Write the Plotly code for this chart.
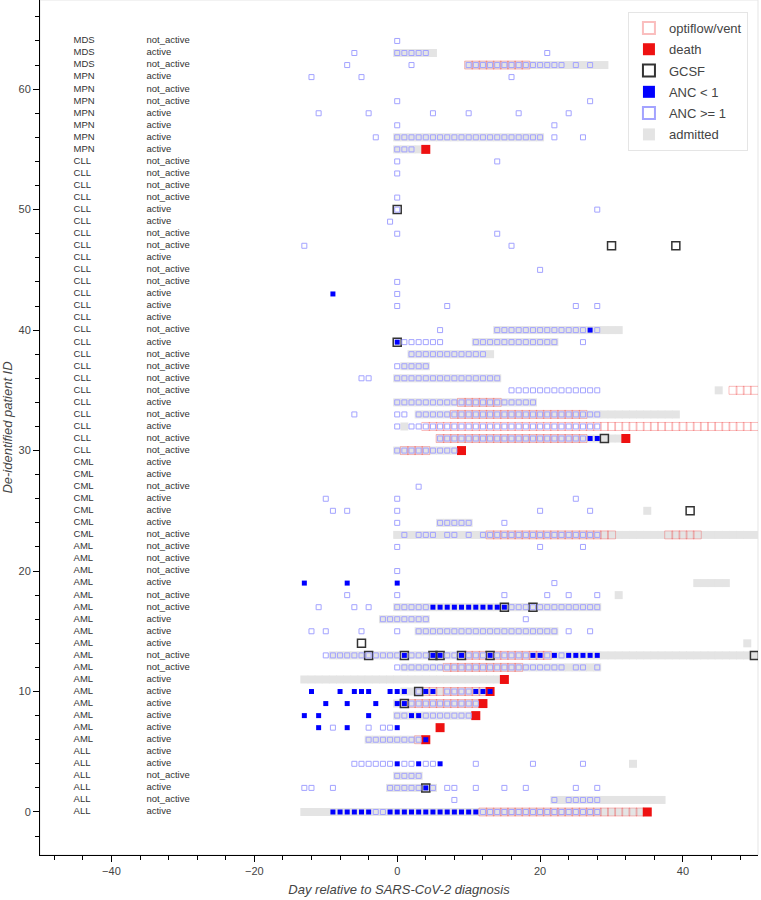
import plotly.graph_objects as go

# one row per patient, id 0 at the bottom
DISEASE = ["ALL"] * 6 + ["AML"] * 17 + ["CML"] * 7 + ["CLL"] * 25 + ["MPN"] * 7 + ["MDS"] * 3
STATUS = [
    "active", "not_active", "active", "not_active", "active", "active",
    "active", "active", "active", "active", "active", "active", "not_active", "not_active",
    "active", "active", "active", "not_active", "not_active", "active", "not_active",
    "not_active", "not_active",
    "not_active", "active", "active", "active", "not_active", "active", "active",
    "not_active", "not_active", "active", "not_active", "active", "not_active", "not_active",
    "not_active", "not_active", "active", "not_active", "active", "active", "active",
    "not_active", "not_active", "active", "not_active", "not_active", "active", "active",
    "not_active", "not_active", "not_active", "not_active",
    "active", "active", "active", "active", "not_active", "not_active", "active",
    "not_active", "active", "not_active",
]

# days per patient, "a..b" = every day from a to b
ANC_HIGH = {
    64: "0", 63: "-6 0..4 21", 62: "-7 2 10..23 25 27", 61: "-12 -5 16",
    59: "0 27", 58: "-11 -4 5 10 17 24", 57: "0 22", 56: "-3 0..20 22 26",
    55: "0..2", 54: "0 14", 53: "0", 51: "0", 50: "0 28", 49: "-1", 48: "0 14",
    47: "-13 16", 45: "20", 44: "0", 43: "0", 42: "0 7 25 28", 40: "6 14..26 28",
    39: "1..6 11..22 26", 38: "2..12", 37: "0..4", 36: "-5 -4 0..14", 35: "16..28",
    34: "0..19", 33: "-6 0 1 3..28", 32: "0 2..28", 31: "6..26", 30: "0..8",
    27: "3", 26: "-10 0 25", 25: "-9 -7 0 20 27", 24: "0 6..10 15",
    23: "1 3..5 7 8 10 12..28", 22: "0 20 26", 20: "0", 19: "22",
    18: "-7 0 15 21 24 28", 17: "-11 -6 -4 0..4 16..28", 16: "-2..4 18",
    15: "-12 -10 -5 0 3..22 24 27", 13: "-10..0 2..4 7 8 10..12 14..18 21 23",
    12: "0..23 25 26 28", 10: "3 7..10", 9: "2..11", 8: "0 1 4..10",
    7: "-9 -4 -2 -1", 6: "-4..3", 4: "-6..-1 1 2 4 5 11 19 26", 3: "0..3",
    2: "-13 -12 -9 -1..3 5 7 8 11 15 18 25 28", 1: "8 22 24..28", 0: "-3 -2 12..28",
}
ANC_LOW = {
    43: "-9", 40: "27", 39: "0", 31: "27 28", 19: "-13 -7 0", 17: "5..15",
    13: "1 5 6 9 13 19 20 22 24..28", 10: "-12 -8 -6..-4 -1..1 4 5 11..13",
    9: "-10 -7 -3 0 1", 8: "-13 -11 -4 2 3", 7: "-11 -7 0", 6: "4", 4: "0 3 6",
    2: "4", 0: "-9..-4 -1..11",
}
GCSF = {
    50: "0", 47: "30 39", 39: "0", 31: "29", 25: "41", 17: "15 19", 14: "-5",
    13: "-4 1 5 6 9 13 50", 10: "3", 9: "1", 2: "4",
}
ADMITTED = {
    63: "0..5", 62: "10..29", 56: "0..20", 55: "0..3", 40: "14..31", 39: "11..22",
    38: "2..13", 37: "1..4", 36: "0..14", 35: "45", 34: "0..19", 33: "3..39", 32: "1",
    31: "6..31", 30: "0..8", 25: "35", 24: "6..10", 23: "0..50", 19: "42..46", 18: "31",
    17: "0..28", 16: "-2..4", 15: "3..22", 14: "49", 13: "-9..50", 12: "1..28",
    11: "-13..14", 10: "1..12", 9: "0..11", 8: "0..10", 6: "-4..3", 4: "33", 3: "0..3",
    2: "-1..5", 1: "22..37", 0: "-13..34",
}
OPTIFLOW = {
    62: "10..18", 35: "47..50", 34: "9..14", 33: "8..26", 32: "4..50", 31: "6..26",
    30: "1..4", 23: "13..30 38..42", 13: "10..21", 12: "7..17", 10: "4..12", 9: "2..11",
    6: "3", 0: "12..34",
}
DEATH = {56: "33", 55: "4", 31: "32", 30: "9", 11: "15", 10: "13", 9: "12", 8: "11", 7: "6", 6: "4", 0: "35"}


def points(table):
    xs, ys = [], []
    for pid, spec in table.items():
        for tok in spec.split():
            if ".." in tok:
                a, b = tok.split("..")
                days = range(int(a), int(b) + 1)
            else:
                days = [int(tok)]
            for d in days:
                xs.append(d)
                ys.append(pid)
    return xs, ys


FONT = "Liberation Sans, Arial, Helvetica, sans-serif"

fig = go.Figure()


def add(table, name, rank, marker):
    xs, ys = points(table)
    fig.add_trace(go.Scatter(x=xs, y=ys, mode="markers", name=name, legendrank=rank,
                             legendgroup=name, marker=marker, hoverinfo="x+y+name"))


add(ADMITTED, "admitted", 6, dict(symbol="square", size=8, color="#e4e4e4", line=dict(width=0)))
add(OPTIFLOW, "optiflow/vent", 1, dict(symbol="square-open", size=8, color="rgba(240,70,70,0.35)", line=dict(width=1)))
add(DEATH, "death", 2, dict(symbol="square", size=9, color="#ee1111", line=dict(width=0)))
add(GCSF, "GCSF", 3, dict(symbol="square-open", size=8, color="#333333", line=dict(width=1.5)))
add(ANC_HIGH, "ANC >= 1", 5, dict(symbol="square-open", size=5, color="#a3a3ff", line=dict(width=1)))
add(ANC_LOW, "ANC < 1", 4, dict(symbol="square", size=5, color="#0000ff", line=dict(width=0)))

ids = list(range(len(DISEASE)))
fig.add_trace(go.Scatter(x=[-45.3] * len(ids), y=ids, mode="text", text=DISEASE,
                         textposition="middle right", showlegend=False, hoverinfo="skip",
                         textfont=dict(size=9.5, color="#333333", family=FONT)))
fig.add_trace(go.Scatter(x=[-35.1] * len(ids), y=ids, mode="text", text=STATUS,
                         textposition="middle right", showlegend=False, hoverinfo="skip",
                         textfont=dict(size=9.5, color="#333333", family=FONT)))

axis_common = dict(
    showgrid=False, zeroline=False, showline=True, linecolor="black", linewidth=1,
    ticks="outside", ticklen=6, tickcolor="black", automargin=False,
    tickfont=dict(size=11, color="#444444", family=FONT),
)

fig.update_layout(
    width=761, height=900,
    paper_bgcolor="white", plot_bgcolor="white",
    margin=dict(l=40, r=3, t=0, b=45),
    font=dict(family=FONT, color="#444444"),
    xaxis=dict(
        range=[-50, 50.5], tick0=0, dtick=20,
        minor=dict(dtick=4, tick0=0, ticks="outside", ticklen=4, tickcolor="black"),
        title=dict(text="<i>Day relative to SARS-CoV-2 diagnosis</i>", font=dict(size=13), standoff=8),
        **axis_common,
    ),
    yaxis=dict(
        range=[-3.57, 67.4], tick0=0, dtick=10,
        minor=dict(dtick=2, tick0=0, ticks="outside", ticklen=4, tickcolor="black"),
        title=dict(text="<i>De-identified patient ID</i>", font=dict(size=13), standoff=2),
        **axis_common,
    ),
    legend=dict(
        x=0.986, xanchor="right", y=0.986, yanchor="top",
        bgcolor="white", bordercolor="#e5e5e5", borderwidth=1,
        font=dict(size=13, color="#444444"), itemsizing="constant",
        traceorder="grouped", tracegroupgap=1.4,
    ),
    shapes=[dict(type="rect", xref="paper", yref="paper", x0=0, y0=0, x1=1, y1=1,
                 line=dict(color="#e5e5e5", width=1), layer="below")],
)

# the page's default 8px body margin would push the figure off the window edge
fig.write_html("out.html", config={"displayModeBar": False},
               post_script="document.body.style.margin = '0';")
